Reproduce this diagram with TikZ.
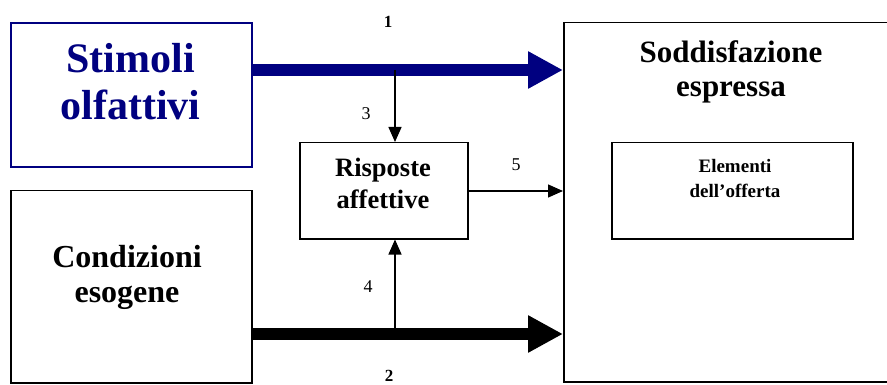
\documentclass[tikz,border=0pt]{standalone}
\usepackage{fontspec}
\setmainfont{Liberation Serif}
\usetikzlibrary{arrows.meta}
\definecolor{navy}{RGB}{0,0,128}
\tikzset{
  box/.style={draw, line width=1.5pt, anchor=north west, inner sep=0pt},
  bluebox/.style={box, draw=navy, line width=1.8pt},
  fatarrow/.style={line width=12pt, -{Triangle[length=35pt,width=35pt]}},
  thinarrow/.style={line width=1.3pt, -{Triangle[length=15pt,width=13pt]}},
  txt/.style={inner sep=0pt, anchor=base, font=\bfseries},
  num/.style={inner sep=0pt}
}
\begin{document}
\begin{tikzpicture}[x=1pt,y=-1pt]
\useasboundingbox (0,0) rectangle (887,385);
% boxes
\node[bluebox, minimum width=241pt, minimum height=144pt] (stim) at (10,22) {};
\node[box, minimum width=241pt, minimum height=192pt] (cond) at (10,190) {};
\node[box, minimum width=168pt, minimum height=96pt] (risp) at (299,142) {};
\node[box, minimum width=336pt, minimum height=359pt] (sodd) at (563,22) {};
\node[box, minimum width=241pt, minimum height=96pt] (elem) at (611,142) {};
% texts
\node[txt, text=navy, font=\bfseries\fontsize{42}{47}\selectfont] (t1a) at (130.5,73) {Stimoli};
\node[txt, text=navy, font=\bfseries\fontsize{42}{47}\selectfont] (t1b) at (130.5,120) {olfattivi};
\node[txt, font=\bfseries\fontsize{32}{36}\selectfont] (t2a) at (127,267) {Condizioni};
\node[txt, font=\bfseries\fontsize{32}{36}\selectfont] (t2b) at (127,302) {esogene};
\node[txt, font=\bfseries\fontsize{26.5}{30}\selectfont] (t3a) at (383,177) {Risposte};
\node[txt, font=\bfseries\fontsize{26.5}{30}\selectfont] (t3b) at (383,208) {affettive};
\node[txt, font=\bfseries\fontsize{31}{35}\selectfont] (t4a) at (731,63) {Soddisfazione};
\node[txt, font=\bfseries\fontsize{31}{35}\selectfont] (t4b) at (731,97) {espressa};
\node[txt, font=\bfseries\fontsize{19}{24}\selectfont] (t5a) at (735,173) {Elementi};
\node[txt, font=\bfseries\fontsize{19}{24}\selectfont] (t5b) at (735,197) {dell’offerta};
% connectors
\coordinate (j1) at (395,70);
\coordinate (j2) at (395,334);
\draw[fatarrow, navy] (stim.north east |- j1) -- (sodd.north west |- j1);
\draw[fatarrow, black] (cond.north east |- j2) -- (sodd.north west |- j2);
\draw[thinarrow] (j1) -- (risp.north -| j1);
\draw[thinarrow] (j2) -- (risp.south -| j2);
\draw[thinarrow] (risp.east |- 0,191) -- (sodd.west |- 0,191);
% labels
\node[num, font=\bfseries\fontsize{17}{20}\selectfont] (l1) at (388,22) {1};
\node[num, font=\bfseries\fontsize{17}{20}\selectfont] (l2) at (389,376) {2};
\node[num, font=\fontsize{18}{20}\selectfont] (l3) at (366,114) {3};
\node[num, font=\fontsize{18}{20}\selectfont] (l4) at (368,287) {4};
\node[num, font=\fontsize{18}{20}\selectfont] (l5) at (516,165) {5};
\end{tikzpicture}
\end{document}
